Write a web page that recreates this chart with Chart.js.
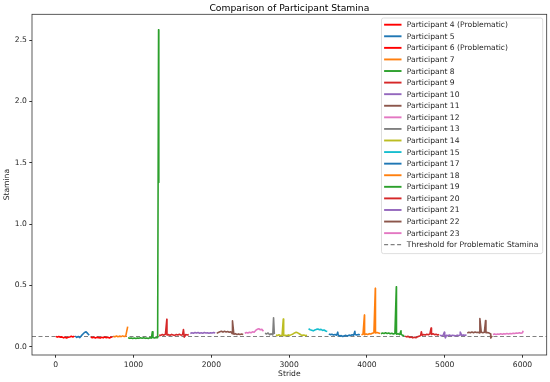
<!DOCTYPE html>
<html lang="en">

<head>
  <meta charset="UTF-8">
  <title>Comparison of Participant Stamina</title>
  <script src="https://cdn.jsdelivr.net/npm/chart.js"></script>
  <style>
    html, body { margin: 0; padding: 0; background: #fff; }
    canvas { display: block; }
  </style>
</head>

<body>

  <canvas id="staminaChart" width="550" height="382"></canvas>

  <script>
    // stamina, one value every STEP strides from each start stride
    const STEP = 20;

    const participants = [
      'Participant 4 (Problematic)', 'Participant 5', 'Participant 6 (Problematic)', 'Participant 7',
      'Participant 8', 'Participant 9', 'Participant 10', 'Participant 11', 'Participant 12',
      'Participant 13', 'Participant 14', 'Participant 15', 'Participant 17', 'Participant 18',
      'Participant 19', 'Participant 20', 'Participant 21', 'Participant 22', 'Participant 23'
    ];

    const startStride = [0, 250, 450, 740, 930, 1330, 1730, 2070, 2430, 2690, 2830, 3250, 3510, 3930, 4180, 4490, 4940, 5290, 5620];

    const p4 = [0.084, 0.078, 0.083, 0.077, 0.080, 0.072, 0.077, 0.071, 0.076, 0.079, 0.084, 0.079, 0.086];
    const p5 = [0.087, 0.076, 0.083, 0.074, 0.090, 0.103, 0.116, 0.121, 0.108, 0.094];
    const p6 = [0.079, 0.073, 0.077, 0.071, 0.076, 0.074, 0.070, 0.077, 0.072, 0.078, 0.073, 0.076, 0.071, 0.077, 0.079];
    const p7 = [0.084, 0.080, 0.087, 0.081, 0.086, 0.082, 0.088, 0.083, 0.086];
    const p8 = [0.072, 0.068, 0.071, 0.066, 0.070, 0.067, 0.071, 0.068, 0.072, 0.069, 0.073, 0.068, 0.071, 0.067, 0.072, 0.070, 0.074, 0.071, 0.075, 0.073];
    const p9 = [0.096, 0.092, 0.099, 0.094, 0.101, 0.095, 0.098, 0.093, 0.100, 0.096, 0.092, 0.099, 0.095, 0.101, 0.094, 0.097, 0.093, 0.099, 0.095, 0.098];
    const p10 = [0.108, 0.114, 0.110, 0.116, 0.111, 0.115, 0.109, 0.113, 0.110, 0.115, 0.111, 0.114, 0.109, 0.113, 0.112, 0.116, 0.111];
    const p11 = [0.108, 0.116, 0.121, 0.126, 0.119, 0.125, 0.120, 0.124, 0.118, 0.122, 0.105, 0.101, 0.106, 0.100, 0.104, 0.099, 0.103, 0.100];
    const p12 = [0.110, 0.116, 0.112, 0.118, 0.114, 0.121, 0.118, 0.132, 0.142, 0.146, 0.138, 0.141, 0.126];
    const p13 = [0.110, 0.104, 0.111, 0.097, 0.105, 0.096, 0.102];
    const p14 = [0.095, 0.091, 0.097, 0.090, 0.094, 0.089, 0.093, 0.090, 0.096, 0.092, 0.098, 0.104, 0.112, 0.117, 0.113, 0.105, 0.097, 0.092, 0.095, 0.090, 0.094];
    const p15 = [0.146, 0.138, 0.134, 0.129, 0.136, 0.141, 0.144, 0.138, 0.141, 0.133, 0.136, 0.128, 0.124];
    const p17 = [0.104, 0.098, 0.101, 0.095, 0.099, 0.093, 0.097, 0.086, 0.090, 0.083, 0.089, 0.092, 0.087, 0.094, 0.091, 0.097, 0.094, 0.099, 0.095, 0.100, 0.097];
    const p18 = [0.098, 0.102, 0.097, 0.104, 0.100, 0.106, 0.103, 0.109, 0.114, 0.111, 0.116, 0.112, 0.107];
    const p19 = [0.106, 0.111, 0.107, 0.113, 0.108, 0.112, 0.106, 0.110, 0.104, 0.108, 0.102, 0.106, 0.098, 0.101, 0.092, 0.088];
    const p20 = [0.086, 0.080, 0.084, 0.075, 0.079, 0.072, 0.077, 0.073, 0.080, 0.085, 0.090, 0.094, 0.099, 0.095, 0.101, 0.097, 0.104, 0.099, 0.105, 0.098, 0.101, 0.096, 0.100];
    const p21 = [0.094, 0.089, 0.093, 0.088, 0.092, 0.090, 0.095, 0.089, 0.093, 0.091, 0.088, 0.094, 0.090, 0.095, 0.091, 0.096, 0.092, 0.097];
    const p22 = [0.112, 0.118, 0.113, 0.119, 0.114, 0.120, 0.115, 0.118, 0.112, 0.117, 0.113, 0.118, 0.114, 0.116, 0.111, 0.104, 0.088];
    const p23 = [0.100, 0.104, 0.099, 0.103, 0.101, 0.105, 0.102, 0.106, 0.103, 0.107, 0.104, 0.108, 0.106, 0.110, 0.107, 0.111, 0.109, 0.113, 0.110, 0.114];

    const staminaSeries = [p4, p5, p6, p7, p8, p9, p10, p11, p12, p13, p14, p15, p17, p18, p19, p20, p21, p22, p23];

    // single-stride spikes sitting between the sampled points
    const spikeStride = [
      [], [], [], [925], [1242, 1322, 1325], [1428, 1642, 1652], [], [2272], [], [2800], [2925], [],
      [3625, 3845], [3968, 4108], [4378, 4438], [4700, 4825], [4995, 5010, 5200], [5452, 5525, 5592], [6008]
    ];
    const spikeValue = [
      [], [], [], [0.163], [0.122, 2.585, 1.34], [0.223, 0.14, 0.078], [], [0.21], [], [0.236], [0.226], [],
      [0.118, 0.125], [0.258, 0.476], [0.489, 0.13], [0.122, 0.152], [0.118, 0.072, 0.12], [0.23, 0.212, 0.07], [0.13]
    ];

    const threshold = 0.083;
    const thresholdLabel = 'Threshold for Problematic Stamina';

    const xTicks = [0, 1000, 2000, 3000, 4000, 5000, 6000];
    const yTicks = [0, 0.5, 1.0, 1.5, 2.0, 2.5];
    const xRange = [-305, 6311];
    const yRange = [-0.068, 2.711];

    const colors = [
      '#ff0000', '#1f77b4', '#ff0000', '#ff7f0e', '#2ca02c', '#d62728', '#9467bd', '#8c564b', '#e377c2',
      '#7f7f7f', '#bcbd22', '#17becf', '#1f77b4', '#ff7f0e', '#2ca02c', '#d62728', '#9467bd', '#8c564b', '#e377c2'
    ];

    const FONT = 'DejaVu Sans';

    function buildSeries(i) {
      const pts = staminaSeries[i].map((v, k) => ({ x: startStride[i] + k * STEP, y: v }));
      spikeStride[i].forEach((s, k) => pts.push({ x: s, y: spikeValue[i][k] }));
      return pts.sort((a, b) => a.x - b.x);
    }

    const datasets = participants.map((name, i) => ({
      label: name,
      data: buildSeries(i),
      borderColor: colors[i],
      borderWidth: 1.6,
      borderJoinStyle: 'round',
      pointRadius: 0,
      tension: 0
    }));

    datasets.push({
      label: thresholdLabel,
      data: [{ x: xRange[0], y: threshold }, { x: xRange[1], y: threshold }],
      borderColor: '#808080',
      borderWidth: 1.2,
      borderDash: [4, 2.5],
      pointRadius: 0
    });

    // frame, title and matplotlib-style legend inside the axes
    const decor = {
      id: 'decor',
      afterDraw(chart) {
        const { ctx, chartArea: a } = chart;
        ctx.save();
        ctx.strokeStyle = '#333';
        ctx.lineWidth = 0.8;
        ctx.strokeRect(a.left, a.top, a.right - a.left, a.bottom - a.top);

        ctx.fillStyle = '#000';
        ctx.font = `9.2px "${FONT}"`;
        ctx.textAlign = 'center';
        ctx.textBaseline = 'alphabetic';
        ctx.fillText('Comparison of Participant Stamina', (a.left + a.right) / 2, 10.5);

        ctx.font = `7.6px "${FONT}"`;
        const labels = chart.data.datasets.map(d => d.label);
        const textW = Math.max(...labels.map(l => ctx.measureText(l).width));
        const rowH = 11.58;
        const boxW = 25.3 + textW + 4.4;
        const boxH = rowH * labels.length + 4;
        const bx = a.right - 4 - boxW;
        const by = a.top + 3.7;
        ctx.fillStyle = 'rgba(255,255,255,0.8)';
        ctx.strokeStyle = '#d6d6d6';
        ctx.lineWidth = 0.8;
        ctx.beginPath();
        ctx.roundRect(bx, by, boxW, boxH, 2);
        ctx.fill();
        ctx.stroke();

        ctx.textAlign = 'left';
        ctx.textBaseline = 'middle';
        chart.data.datasets.forEach((d, i) => {
          const y = by + 6.7 + i * rowH;
          ctx.strokeStyle = d.borderColor;
          ctx.lineWidth = d.borderDash ? 1.3 : 1.9;
          ctx.setLineDash(d.borderDash || []);
          ctx.beginPath();
          ctx.moveTo(bx + 2.6, y);
          ctx.lineTo(bx + 20, y);
          ctx.stroke();
          ctx.setLineDash([]);
          ctx.fillStyle = '#262626';
          ctx.fillText(d.label, bx + 25.3, y + 0.5);
        });
        ctx.restore();
      }
    };

    const tickFont = { family: FONT, size: 7.6 };

    new Chart(document.getElementById('staminaChart'), {
      type: 'line',
      data: { datasets },
      options: {
        responsive: false,
        animation: false,
        layout: { padding: { top: 14.3, right: 3.3, left: 0, bottom: 0 } },
        plugins: {
          legend: { display: false },
          tooltip: { enabled: false }
        },
        scales: {
          x: {
            type: 'linear',
            min: xRange[0],
            max: xRange[1],
            afterBuildTicks: s => { s.ticks = xTicks.map(v => ({ value: v })); },
            afterFit: s => { s.height = 27; },
            grid: { drawOnChartArea: false, tickLength: 2.7, color: '#333' },
            border: { display: false },
            ticks: { font: tickFont, color: '#262626', padding: 2.4, maxRotation: 0, autoSkip: false, callback: v => String(v) },
            title: { display: true, text: 'Stride', font: tickFont, color: '#262626', padding: { top: 0, bottom: 3 } }
          },
          y: {
            min: yRange[0],
            max: yRange[1],
            afterBuildTicks: s => { s.ticks = yTicks.map(v => ({ value: v })); },
            afterFit: s => { s.width = 32; },
            grid: { drawOnChartArea: false, tickLength: 2.7, color: '#333' },
            border: { display: false },
            ticks: { font: tickFont, color: '#262626', padding: 2.4, callback: v => v.toFixed(1) },
            title: { display: true, text: 'Stamina', font: tickFont, color: '#262626', padding: { top: 2.1, bottom: 0 } }
          }
        }
      },
      plugins: [decor]
    });
  </script>

</body>

</html>
